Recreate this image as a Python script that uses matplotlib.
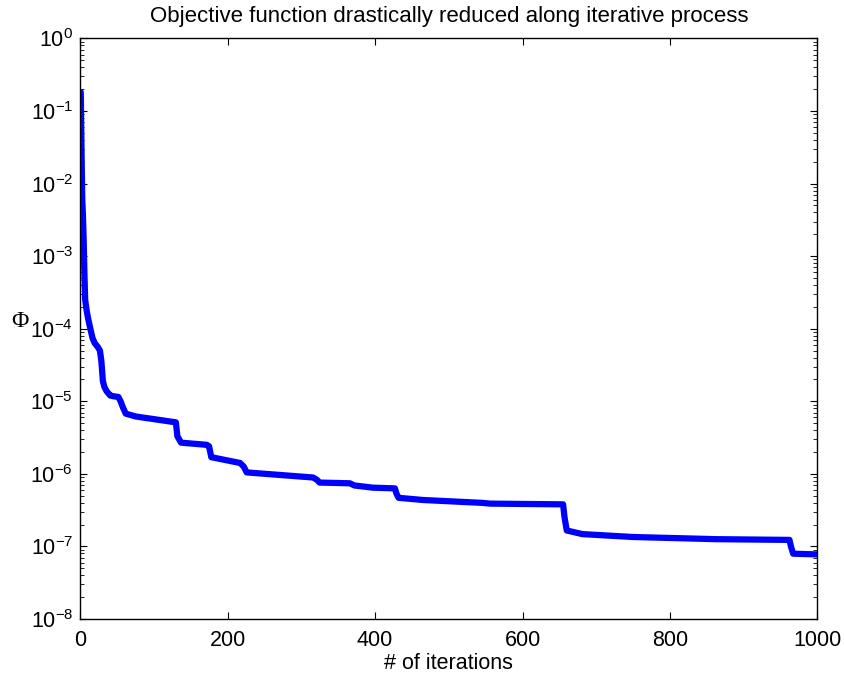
import numpy as np
import matplotlib
matplotlib.use("Agg")
import matplotlib.pyplot as plt
from matplotlib.ticker import LogLocator, FixedLocator

plt.rcParams['font.family'] = ['Liberation Sans', 'DejaVu Sans']
plt.rcParams['mathtext.fontset'] = 'custom'
plt.rcParams['mathtext.rm'] = 'Liberation Sans'
plt.rcParams['mathtext.it'] = 'Liberation Sans'

# iteration number and objective value (log10)
iters = [1, 2, 3, 4, 5, 6, 7, 9, 11, 14, 17, 20, 24, 27, 29, 31, 33, 36, 41, 45,
         52, 55, 58, 62, 76, 103, 130, 132, 137, 172, 175, 178, 217, 222, 226,
         316, 321, 325, 366, 372, 397, 427, 429, 432, 465, 546, 556, 655, 657,
         660, 681, 750, 863, 962, 964, 967, 1000]
log_phi = [-0.74, -1.5, -2.2, -2.45, -2.8, -3.25, -3.6, -3.75, -3.86, -4.0, -4.13,
           -4.2, -4.25, -4.3, -4.45, -4.72, -4.8, -4.86, -4.92, -4.93,
           -4.94, -5.0, -5.08, -5.17, -5.21, -5.25, -5.29, -5.48, -5.57, -5.6,
           -5.62, -5.77, -5.85, -5.9, -5.98,
           -6.05, -6.08, -6.12, -6.13, -6.16, -6.19, -6.2, -6.27, -6.33, -6.36,
           -6.40, -6.41, -6.42, -6.6, -6.78, -6.83, -6.87, -6.9, -6.91, -7.0,
           -7.1, -7.11]
phi = [10.0 ** v for v in log_phi]

fig = plt.figure(figsize=(8.44, 6.83), dpi=100)
ax = fig.add_axes([0.0948, 0.0937, 0.8738, 0.850])

ax.plot(iters, phi, color='#0000ff', lw=4.5, solid_joinstyle='round', solid_capstyle='round')

ax.set_yscale('log')
ax.set_xlim(0, 1000)
ax.set_ylim(1e-8, 1e0)
ax.xaxis.set_major_locator(FixedLocator([0, 200, 400, 600, 800, 1000]))
ax.yaxis.set_major_locator(LogLocator(base=10, numticks=20))
ax.yaxis.set_minor_locator(LogLocator(base=10, subs=np.arange(2, 10), numticks=20))

ax.tick_params(which='both', direction='in', top=True, right=True, labelsize=15.5)
ax.tick_params(axis='x', which='major', pad=8)
ax.tick_params(axis='y', which='major', pad=5)
ax.tick_params(which='major', length=5, width=0.8)
ax.tick_params(which='minor', length=3, width=0.6)
for s in ax.spines.values():
    s.set_linewidth(1.0)

ax.set_title('Objective function drastically reduced along iterative process', fontsize=16, pad=12)
ax.set_xlabel('# of iterations', fontsize=15.5, labelpad=1)
ax.set_ylabel('Φ', fontsize=17, rotation=0, family='Liberation Serif', ha='center', va='center')
ax.yaxis.set_label_coords(-0.082, 0.513)

fig.savefig('out.png', dpi=100)
